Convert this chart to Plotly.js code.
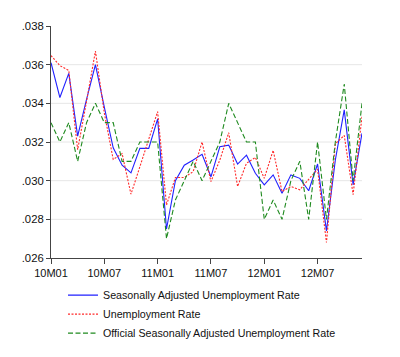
<!DOCTYPE html>
<html>
<head>
<meta charset="utf-8">
<script src="https://cdn.plot.ly/plotly-3.0.1.min.js"></script>
<style>html,body{margin:0;padding:0;background:#fff;}#chart{width:400px;height:357px;}</style>
</head>
<body>
<div id="chart"></div>
<script>
var months = ["10M01","10M02","10M03","10M04","10M05","10M06","10M07","10M08","10M09","10M10","10M11","10M12",
              "11M01","11M02","11M03","11M04","11M05","11M06","11M07","11M08","11M09","11M10","11M11","11M12",
              "12M01","12M02","12M03","12M04","12M05","12M06","12M07","12M08","12M09","12M10","12M11","12M12"];
var seasAdj = [0.0361,0.0343,0.03555,0.0323,0.0342,0.0360,0.0338,0.0317,0.0308,0.0304,0.03167,0.03167,
               0.0332,0.0275,0.0300,0.0308,0.03107,0.03136,0.0302,0.03176,0.03184,0.03086,0.03132,0.03038,
               0.02978,0.0303,0.02935,0.0303,0.03012,0.02948,0.03086,0.0274,0.03107,0.03366,0.02978,0.03245];
var unemp = [0.03647,0.03595,0.0357,0.0316,0.0341,0.0367,0.0335,0.0311,0.0314,0.0293,0.03072,0.0321,
             0.03357,0.02874,0.03016,0.03016,0.03047,0.0320,0.02995,0.03107,0.03248,0.0297,0.0309,0.0312,
             0.03012,0.03157,0.02943,0.0297,0.02953,0.03007,0.03059,0.0268,0.03191,0.03234,0.02928,0.03331];
var official = [0.033,0.032,0.033,0.031,0.033,0.034,0.033,0.033,0.031,0.031,0.032,0.032,
                0.032,0.027,0.029,0.030,0.031,0.030,0.031,0.032,0.034,0.033,0.032,0.032,
                0.028,0.029,0.028,0.030,0.031,0.028,0.032,0.028,0.032,0.035,0.030,0.034];
var xTickVals = ["10M01","10M07","11M01","11M07","12M01","12M07"];
var yTickVals = [0.026,0.028,0.030,0.032,0.034,0.036,0.038];
var yTickText = [".026",".028",".030",".032",".034",".036",".038"];
var gridVals = [0.028,0.030,0.032,0.034,0.036];
var names = ["Seasonally Adjusted Unemployment Rate","Unemployment Rate","Official Seasonally Adjusted Unemployment Rate"];

var traces = [
  {x: months, y: seasAdj, name: names[0], type: 'scatter', mode: 'lines',
   line: {color: '#2020ff', width: 1.1}},
  {x: months, y: unemp, name: names[1], type: 'scatter', mode: 'lines',
   line: {color: '#ff2a2a', width: 1.1, dash: '2px,1.5px'}},
  {x: months, y: official, name: names[2], type: 'scatter', mode: 'lines',
   line: {color: '#1f8a1f', width: 1.1, dash: '5px,2.5px'}}
];

var shapes = gridVals.map(function(v){
  return {type:'line', xref:'paper', x0:0, x1:1, yref:'y', y0:v, y1:v, layer:'below',
          line:{color:'#e6e6e6', width:1}};
});

var layout = {
  width: 400, height: 357,
  margin: {l: 51, r: 38, t: 26, b: 99, pad: 0, autoexpand: false},
  paper_bgcolor: '#fff', plot_bgcolor: '#fff',
  font: {family: 'Liberation Sans, Arial, sans-serif', color: '#111'},
  showlegend: true,
  legend: {xref: 'paper', yref: 'container', x: 0.0386, y: 0.214, xanchor: 'left', yanchor: 'top',
           font: {size: 10.7, color: '#111'}, bgcolor: 'rgba(0,0,0,0)', itemwidth: 30, tracegroupgap: 0},
  xaxis: {type: 'category', categoryorder: 'array', categoryarray: months,
          range: [0, months.length - 1], tickmode: 'array', tickvals: xTickVals, ticktext: xTickVals,
          showgrid: false, zeroline: false, showline: true, linecolor: '#444', linewidth: 1,
          ticks: 'outside', ticklen: 5, tickcolor: '#444', tickfont: {size: 11}, automargin: false},
  yaxis: {range: [0.026, 0.038], tickmode: 'array', tickvals: yTickVals, ticktext: yTickText,
          showgrid: false, zeroline: false, showline: true, linecolor: '#444', linewidth: 1,
          ticks: 'outside', ticklen: 4, tickcolor: '#444', tickfont: {size: 11.3}, automargin: false},
  shapes: shapes
};

Plotly.newPlot('chart', traces, layout, {displayModeBar: false, staticPlot: true});
</script>
</body>
</html>
